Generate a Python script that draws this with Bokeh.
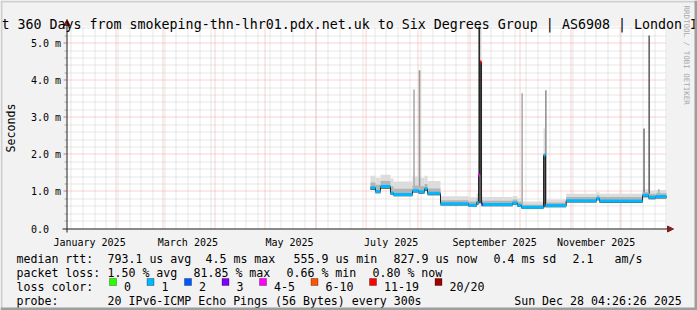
import math
import numpy as np
import pandas as pd
from bokeh.plotting import figure
from bokeh.models import Range1d, Label, BoxAnnotation, ColumnDataSource, Arrow, NormalHead
from bokeh.core.properties import value
from bokeh.transform import factor_cmap, linear_cmap
from bokeh.embed import file_html
from bokeh.resources import INLINE

# ---------------- data ----------------
end_time = "2025-12-28 04:26:26"
span_days = 360

med_start = ["2025-07-03 14:00", "2025-07-06 14:00", "2025-07-09 14:00", "2025-07-15 14:00",
             "2025-07-17 10:00", "2025-07-28 19:00", "2025-08-01 10:00", "2025-08-05 00:00",
             "2025-08-06 19:00", "2025-08-14 14:00", "2025-08-31 10:00", "2025-09-05 05:00",
             "2025-09-06 10:00", "2025-09-07 07:00", "2025-09-08 05:00", "2025-09-09 05:00",
             "2025-09-26 19:00", "2025-09-29 19:00", "2025-10-02 05:00", "2025-10-15 10:00",
             "2025-10-16 14:00", "2025-10-29 00:00", "2025-11-16 05:00", "2025-11-18 00:00",
             "2025-12-13 19:00", "2025-12-17 10:00", "2025-12-21 14:00"]
med_value = [1.10, 1.00, 1.13, 0.96, 0.92, 1.02, 0.99, 1.07, 0.95, 0.67, 0.63, 0.70,
             1.44, 4.49, 0.66, 0.65, 0.69, 0.63, 0.57, 1.98, 0.62, 0.75, 0.81, 0.74,
             0.90, 0.84, 0.86]
med_loss = ["1", "1", "1", "1", "1", "1", "1", "1", "1", "1", "1", "1",
            "4-5", "11-19", "2", "1", "1", "1", "1", "1", "1", "1", "1", "1",
            "1", "1", "1"]
smoke_lo = [1.04, 0.95, 1.07, 0.91, 0.87, 0.97, 0.94, 1.01, 0.90, 0.62, 0.59, 0.64,
            0.68, 0.68, 0.60, 0.60, 0.64, 0.58, 0.53, 0.57, 0.57, 0.70, 0.76, 0.69,
            0.84, 0.79, 0.81]
smoke_mid = [1.24, 1.18, 1.28, 1.14, 1.07, 1.16, 1.14, 1.20, 1.08, 0.76, 0.73, 0.82,
             1.44, 4.49, 0.76, 0.75, 0.78, 0.72, 0.64, 1.98, 0.70, 0.85, 0.90, 0.85,
             0.98, 0.93, 0.95]
smoke_hi = [1.42, 1.36, 1.45, 1.35, 1.27, 1.40, 1.36, 1.42, 1.28, 0.87, 0.84, 0.95,
            1.80, 5.45, 0.86, 0.85, 0.88, 0.82, 0.73, 2.70, 0.78, 0.94, 0.98, 0.94,
            1.06, 1.02, 1.04]

spike_time = ["2025-07-29 17:00", "2025-08-02 00:00", "2025-09-06 20:00", "2025-10-02 14:00",
              "2025-10-16 19:00", "2025-12-14 17:00", "2025-12-17 19:00", "2025-12-23 14:00"]
spike_top = [3.75, 4.27, 5.60, 3.65, 3.73, 2.70, 5.21, 1.06]
spike_pings = [1, 2, 6, 1, 2, 3, 4, 1]

y_ticks = [0, 1, 2, 3, 4, 5]
y_labels = ["0.0", "1.0 m", "2.0 m", "3.0 m", "4.0 m", "5.0 m"]
x_label_months = ["2025-01-01", "2025-03-01", "2025-05-01", "2025-07-01", "2025-09-01", "2025-11-01"]
x_label_text = ["January 2025", "March 2025", "May 2025", "July 2025", "September 2025", "November 2025"]

loss_labels = ["0", "1", "2", "3", "4-5", "6-10", "11-19", "20/20"]
loss_colors = ["#26ff00", "#00b8ff", "#0059ff", "#7e00ff", "#ff00ff", "#ff5500", "#ff0000", "#a10000"]

title_text = "t 360 Days from smokeping-thn-lhr01.pdx.net.uk to Six Degrees Group | AS6908 | London I"
rtt_stats = ["793.1 us avg", "4.5 ms max", "555.9 us min", "827.9 us now", "0.4 ms sd", "2.1", "am/s"]
loss_stats = ["1.50 % avg", "81.85 % max", "0.66 % min", "0.80 % now"]
probe_text = "20 IPv6-ICMP Echo Pings (56 Bytes) every 300s"
stamp_text = "Sun Dec 28 04:26:26 2025"
watermark = "RRDTOOL / TOBI OETIKER"

# ---------------- helpers ----------------
def ms(values):
    s = pd.to_datetime(pd.Series(values))
    return ((s - pd.Timestamp("1970-01-01")) // pd.Timedelta(milliseconds=1)).to_numpy().astype(np.int64)

DAY = 86400000
end_ms = int(ms([end_time])[0])
start_ms = end_ms - span_days * DAY
Y_MAX = 5.45

# canvas layout (pixels)
W, H = 697, 310
PL, PR, PT, PB = 66, 666, 26, 228
mpp = (end_ms - start_ms) / (PR - PL)          # ms per pixel
upp = Y_MAX / (PB - PT)                         # y units per pixel


def snap_x(t):
    """move a grid time onto the centre of its pixel column (crisp dotted lines)"""
    px = np.floor(PL + (np.asarray(t, dtype=float) - start_ms) / mpp) + 0.5
    return start_ms + (px - PL) * mpp


def snap_y(v):
    px = np.floor(PB - np.asarray(v, dtype=float) / upp) + 0.5
    return (PB - px) * upp


starts = ms(med_start)
ends = np.append(starts[1:], end_ms)
med = ColumnDataSource(dict(x0=starts, x1=ends, med=med_value, loss=med_loss,
                            lo=smoke_lo, mid=smoke_mid, hi=smoke_hi))

sp_x = ms(spike_time)
idx = np.searchsorted(starts, sp_x, side="right") - 1
sp_base = np.array(med_value)[idx]
spikes = ColumnDataSource(dict(l=sp_x - DAY // 2, r=sp_x + DAY // 2, b=sp_base,
                               t=np.minimum(spike_top, Y_MAX), n=spike_pings))

MONO = "DejaVu Sans Mono"

# ---------------- figure ----------------
p = figure(width=W, height=H, output_backend="svg", toolbar_location=None,
           x_range=Range1d(start_ms - PL * mpp, end_ms + (W - PR) * mpp),
           y_range=Range1d(-(H - PB) * upp, Y_MAX + PT * upp),
           x_axis_location=None, y_axis_location=None, min_border=0,
           background_fill_color="#f2f2f2", border_fill_color="#f2f2f2",
           outline_line_color=None)
p.grid.visible = False

# plot canvas
p.quad(left=[start_ms], right=[end_ms], bottom=[0], top=[Y_MAX], color="white", line_width=0)

# grid
month_ms = ms(pd.date_range("2025-02-01", "2025-12-01", freq="MS").strftime("%Y-%m-%d").tolist())
week_ms = ms(pd.date_range("2025-01-05", "2025-12-28", freq="7D").strftime("%Y-%m-%d").tolist())
week_ms = np.array([w for w in week_ms if start_ms < w < end_ms])
y_minor = np.array([round(k * 0.2, 1) for k in range(1, 28) if k % 5 != 0])
y_major = np.array(y_ticks[1:], dtype=float)

gx_minor, gx_major = snap_x(week_ms), snap_x(month_ms)
gy_minor, gy_major = snap_y(y_minor), snap_y(y_major)

MINOR_C, MAJOR_C = "#cdcdcd", "#f0a4a4"
p.segment(x0=gx_minor, x1=gx_minor, y0=0, y1=Y_MAX, line_color=MINOR_C, line_dash="1 1", line_width=1)
p.segment(x0=start_ms, x1=end_ms, y0=gy_minor, y1=gy_minor, line_color=MINOR_C, line_dash="1 1", line_width=1)
p.segment(x0=gx_major, x1=gx_major, y0=0, y1=Y_MAX, line_color=MAJOR_C, line_dash="1 1", line_width=1)
p.segment(x0=start_ms, x1=end_ms, y0=gy_major, y1=gy_major, line_color=MAJOR_C, line_dash="1 1", line_width=1)
# ticks left of the y axis
p.segment(x0=start_ms - 2 * mpp, x1=start_ms, y0=gy_minor, y1=gy_minor, line_color="#a8a8a8", line_width=1)
p.segment(x0=start_ms - 3 * mpp, x1=start_ms, y0=gy_major, y1=gy_major, line_color="#e07070", line_width=1)

# smoke and spikes
p.quad(left="x0", right="x1", bottom="lo", top="hi", source=med, color="#dcdcdc", line_width=0)
p.quad(left="l", right="r", bottom="b", top="t", source=spikes, line_width=0,
       color=linear_cmap("n", ["#b0b0b0", "#989898", "#808080", "#686868", "#4a4a4a", "#2a2a2a"], 1, 6))
p.quad(left="x0", right="x1", bottom="lo", top="mid", source=med, color="#b4b4b4", line_width=0)
p.quad(left="x0", right="x1", bottom="lo", top="med", source=med, color="#5a5a5a", line_width=0)

# median
step_x = list(starts) + [end_ms]
step_y = list(med_value) + [med_value[-1]]
p.step(step_x, step_y, mode="after", line_color="#202020", line_width=1)
p.segment(x0="x0", x1="x1", y0="med", y1="med", source=med, line_width=3,
          line_color=factor_cmap("loss", loss_colors, loss_labels))

# axis tick labels (placed through the data scales)
label_ms = ms(x_label_months) + 15 * DAY
p.text(x=label_ms, y=[-(241.5 - PB) * upp] * len(label_ms), text=x_label_text,
       text_font=value(MONO), text_font_size="10px", text_align="center",
       text_baseline="alphabetic", text_color="black")
p.text(x=[start_ms - (PL - 30.5) * mpp] * len(y_ticks), y=y_ticks, text=y_labels,
       text_font=value(MONO), text_font_size="10px", text_align="left",
       text_baseline="middle", text_color="black")

# axis lines with arrows
p.add_layout(Arrow(x_start=62, y_start=PB + 0.5, x_end=673, y_end=PB + 0.5,
                   start_units="canvas", end_units="canvas", line_color="#1f1f1f", line_width=1,
                   end=NormalHead(size=6, fill_color="#801f1f", line_color="#801f1f")))
p.add_layout(Arrow(x_start=PL + 0.5, y_start=232, x_end=PL + 0.5, y_end=19,
                   start_units="canvas", end_units="canvas", line_color="#1f1f1f", line_width=1,
                   end=NormalHead(size=6, fill_color="#801f1f", line_color="#801f1f")))


def lab(x, y, text, size="11.6px", **kw):
    p.add_layout(Label(x=x, y=y, x_units="canvas", y_units="canvas", text=text,
                       text_font=MONO, text_font_size=size, text_color=kw.pop("color", "black"),
                       text_baseline=kw.pop("baseline", "alphabetic"),
                       text_align=kw.pop("align", "left"), **kw))


lab(1, 24, title_text, size="13.3px")
lab(686, 5, watermark, size="7.5px", color="#a8a8a8", angle=-math.pi / 2, baseline="middle")
lab(10, 127.5, "Seconds", angle=math.pi / 2, align="center", baseline="middle")

# legend rows (rrdtool style: elements separated by a 16 px gap)
row_y = [258, 272, 286, 300]
lab(16, row_y[0], "median rtt:")
for x, t in zip([107, 205, 293, 393, 493, 572, 614], rtt_stats):
    lab(x, row_y[0], t)
lab(16, row_y[1], "packet loss:")
for x, t in zip([107, 193, 286, 372], loss_stats):
    lab(x, row_y[1], t)
lab(16, row_y[2], "loss color:")
sq = 109.0
for name, col in zip(loss_labels, loss_colors):
    p.add_layout(BoxAnnotation(left=sq, right=sq + 7, top=278, bottom=285,
                               left_units="canvas", right_units="canvas",
                               top_units="canvas", bottom_units="canvas",
                               fill_color=col, fill_alpha=1, line_color="black", line_width=1))
    lab(sq + 14.5, row_y[2], name)
    sq = sq + 14.5 + 7.0 * len(name) + 16
lab(16, row_y[3], "probe:")
lab(107, row_y[3], probe_text)
lab(513.7, row_y[3], stamp_text)

# 3D border
for l, r, t, b, c in [(0, W, 0, 2, "#cfcfcf"), (0, 2, 0, H, "#cfcfcf"),
                      (W - 3, W, 0, H, "#9e9e9e"), (0, W, H - 3, H, "#9e9e9e")]:
    p.add_layout(BoxAnnotation(left=l, right=r, top=t, bottom=b,
                               left_units="canvas", right_units="canvas",
                               top_units="canvas", bottom_units="canvas",
                               fill_color=c, fill_alpha=1, line_color=None))

open("out.html", "w").write(file_html(p, INLINE))
